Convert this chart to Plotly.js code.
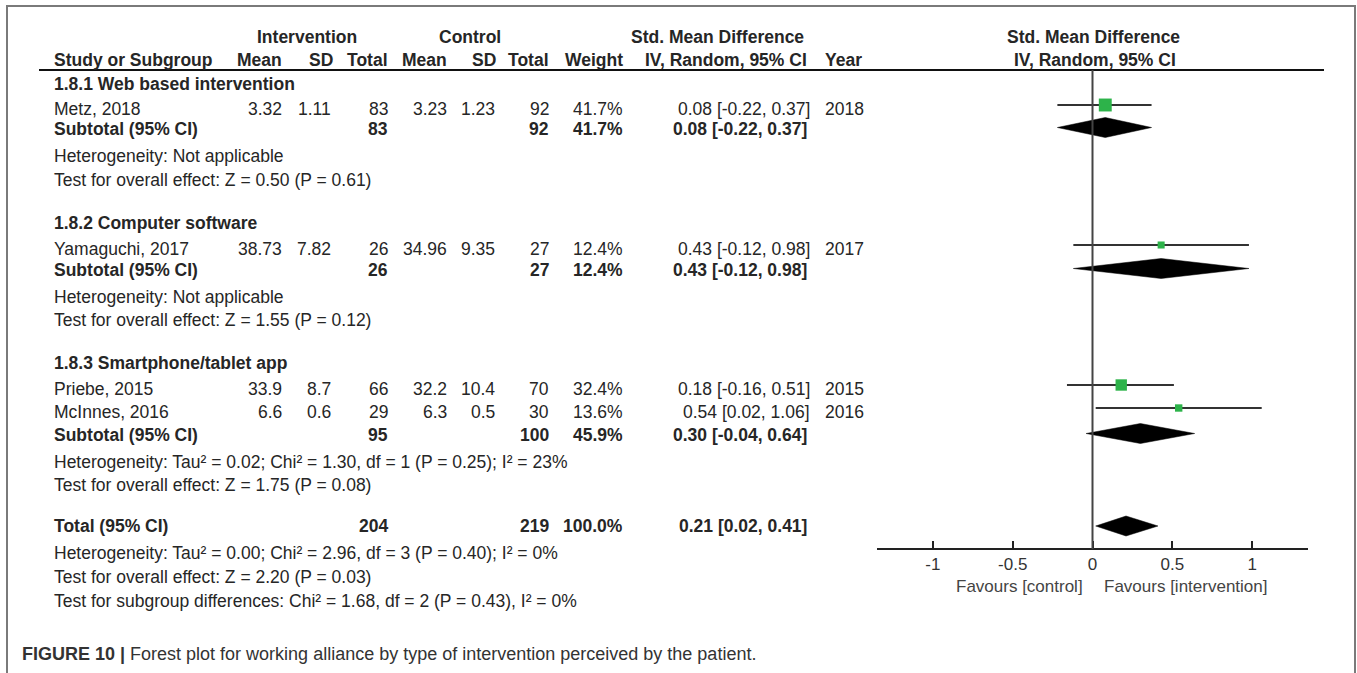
<!DOCTYPE html>
<html>
<head>
<meta charset="utf-8">
<script src="https://cdn.plot.ly/plotly-3.0.1.min.js"></script>
<style>html,body{margin:0;padding:0;background:#fff}</style>
</head>
<body>
<div id="chart" style="width:1357px;height:673px"></div>
<script>
// ---- Study-level data ----
const studies     = ["Metz, 2018", "Yamaguchi, 2017", "Priebe, 2015", "McInnes, 2016"];
const studyYears  = ["2018", "2017", "2015", "2016"];
const studyGroup  = [0, 1, 2, 2];
const intMean     = ["3.32", "38.73", "33.9", "6.6"];
const intSD       = ["1.11", "7.82", "8.7", "0.6"];
const intN        = [83, 26, 66, 29];
const ctlMean     = ["3.23", "34.96", "32.2", "6.3"];
const ctlSD       = ["1.23", "9.35", "10.4", "0.5"];
const ctlN        = [92, 27, 70, 30];
const studyWeight = [41.7, 12.4, 32.4, 13.6];
const studySMD    = [0.08, 0.43, 0.18, 0.54];
const studyLo     = [-0.22, -0.12, -0.16, 0.02];
const studyHi     = [0.37, 0.98, 0.51, 1.06];

// ---- Subgroup summaries ----
const groupNames  = ["1.8.1 Web based intervention", "1.8.2 Computer software", "1.8.3 Smartphone/tablet app"];
const groupIntN   = [83, 26, 95];
const groupCtlN   = [92, 27, 100];
const groupWeight = [41.7, 12.4, 45.9];
const groupSMD    = [0.08, 0.43, 0.30];
const groupLo     = [-0.22, -0.12, -0.04];
const groupHi     = [0.37, 0.98, 0.64];
const groupHet    = ["Heterogeneity: Not applicable",
                     "Heterogeneity: Not applicable",
                     "Heterogeneity: Tau² = 0.02; Chi² = 1.30, df = 1 (P = 0.25); I² = 23%"];
const groupTest   = ["Test for overall effect: Z = 0.50 (P = 0.61)",
                     "Test for overall effect: Z = 1.55 (P = 0.12)",
                     "Test for overall effect: Z = 1.75 (P = 0.08)"];

// ---- Overall summary ----
const totalIntN   = [204];
const totalCtlN   = [219];
const totalWeight = [100.0];
const totalSMD    = [0.21];
const totalLo     = [0.02];
const totalHi     = [0.41];
const totalNotes  = ["Heterogeneity: Tau² = 0.00; Chi² = 2.96, df = 3 (P = 0.40); I² = 0%",
                     "Test for overall effect: Z = 2.20 (P = 0.03)",
                     "Test for subgroup differences: Chi² = 1.68, df = 2 (P = 0.43), I² = 0%"];

// ---- Axis ticks ----
const tickVals   = [-1, -0.5, 0, 0.5, 1];
const tickLabels = ["-1", "-0.5", "0", "0.5", "1"];
const caption    = "Forest plot for working alliance by type of intervention perceived by the patient.";

// ---- Page geometry (pixels) ----
const W = 1357, H = 673;
const px = x => x / W;
const py = y => 1 - y / H;
const ruleY = 70, axisY = 549;
const studyRowY = [109, 249, 389, 412];
const groupRowY = [84, 223, 363];
const subRowY   = [129, 270, 435];
const hetRowY   = [156, 297, 462];
const testRowY  = [180, 320, 485];
const totalRowY = 526;
const totalNoteY = [553, 577, 601];
const markShift = -4, diamondShift = -1.5, diamondHalf = 10;

// column anchors
const col = {name: 54, iMean: 282, iSD: 331, iN: 388, cMean: 447, cSD: 495, cN: 549,
             wt: 623, ci: 810, ciBold: 807, year: 825};

const FONT = "Liberation Sans, Arial, Helvetica, sans-serif";
const TXT = "#262626";
const FS = 17.5;

const annotations = [];
function txt(text, x, y, anchor, bold, extra) {
  annotations.push(Object.assign({
    text: bold ? "<b>" + text + "</b>" : text,
    x: px(x), y: py(y), xref: "paper", yref: "paper",
    xanchor: anchor, yanchor: "middle", showarrow: false,
    borderpad: 0, borderwidth: 0,
    font: {family: FONT, size: FS, color: TXT}
  }, extra || {}));
}
const fmtCI = (m, l, h) => m.toFixed(2) + " [" + l.toFixed(2) + ", " + h.toFixed(2) + "]";
const fmtW = w => w.toFixed(1) + "%";

// header
txt("Intervention", 307, 37, "center", true);
txt("Control", 470, 37, "center", true);
txt("Std. Mean Difference", 717, 37, "center", true);
txt("Std. Mean Difference", 1093, 37, "center", true);
txt("Study or Subgroup", col.name, 60, "left", true);
txt("Mean", col.iMean, 60, "right", true);
txt("SD", 333, 60, "right", true);
txt("Total", col.iN, 60, "right", true);
txt("Mean", col.cMean, 60, "right", true);
txt("SD", 496, 60, "right", true);
txt("Total", col.cN, 60, "right", true);
txt("Weight", col.wt, 60, "right", true);
txt("IV, Random, 95% CI", 726, 60, "center", true);
txt("Year", col.year, 60, "left", true);
txt("IV, Random, 95% CI", 1095, 60, "center", true);

// subgroups and studies
groupNames.forEach((g, gi) => {
  txt(g, col.name, groupRowY[gi], "left", true);
  studies.forEach((s, si) => {
    if (studyGroup[si] !== gi) return;
    const y = studyRowY[si];
    txt(s, col.name, y, "left");
    txt(intMean[si], col.iMean, y, "right");
    txt(intSD[si], col.iSD, y, "right");
    txt(String(intN[si]), col.iN, y, "right");
    txt(ctlMean[si], col.cMean, y, "right");
    txt(ctlSD[si], col.cSD, y, "right");
    txt(String(ctlN[si]), col.cN, y, "right");
    txt(fmtW(studyWeight[si]), col.wt, y, "right");
    txt(fmtCI(studySMD[si], studyLo[si], studyHi[si]), col.ci, y, "right");
    txt(studyYears[si], col.year, y, "left");
  });
  const ys = subRowY[gi];
  txt("Subtotal (95% CI)", col.name, ys, "left", true);
  txt(String(groupIntN[gi]), col.iN, ys, "right", true);
  txt(String(groupCtlN[gi]), col.cN, ys, "right", true);
  txt(fmtW(groupWeight[gi]), col.wt, ys, "right", true);
  txt(fmtCI(groupSMD[gi], groupLo[gi], groupHi[gi]), col.ciBold, ys, "right", true);
  txt(groupHet[gi], col.name, hetRowY[gi], "left");
  txt(groupTest[gi], col.name, testRowY[gi], "left");
});

// overall
txt("Total (95% CI)", col.name, totalRowY, "left", true);
txt(String(totalIntN[0]), col.iN, totalRowY, "right", true);
txt(String(totalCtlN[0]), col.cN, totalRowY, "right", true);
txt(fmtW(totalWeight[0]), col.wt, totalRowY, "right", true);
txt(fmtCI(totalSMD[0], totalLo[0], totalHi[0]), col.ciBold, totalRowY, "right", true);
totalNotes.forEach((n, i) => txt(n, col.name, totalNoteY[i], "left"));

// axis direction labels
txt("Favours [control]", 1019, 586, "center", false, {font: {family: FONT, size: 17, color: "#444"}});
txt("Favours [intervention]", 1185, 586, "center", false, {font: {family: FONT, size: 17, color: "#444"}});

// caption
txt("<b>FIGURE 10 |</b> " + caption, 22, 654, "left", false, {font: {family: FONT, size: 18, color: "#333"}});

// ---- Traces ----
const traces = [];

// confidence-interval whiskers
const ciX = [], ciY = [];
studies.forEach((s, i) => {
  ciX.push(studyLo[i], studyHi[i], null);
  const y = studyRowY[i] + markShift;
  ciY.push(y, y, null);
});
traces.push({x: ciX, y: ciY, mode: "lines", line: {color: "#333", width: 2}, hoverinfo: "skip"});

// weighted study squares (area follows the study weight)
traces.push({
  x: studySMD, y: studyRowY.map(y => y + markShift), mode: "markers",
  marker: {symbol: "square", color: "#2db34a", opacity: 1,
           size: studyWeight.map(w => 2.0 * Math.sqrt(w)), line: {width: 0}},
  hoverinfo: "skip"
});

// pooled diamonds
function diamond(m, l, h, yc) {
  traces.push({
    x: [l, m, h, m, l], y: [yc, yc - diamondHalf, yc, yc + diamondHalf, yc],
    mode: "lines", fill: "toself", fillcolor: "#000", line: {color: "#000", width: 0.5},
    hoverinfo: "skip"
  });
}
groupSMD.forEach((m, i) => diamond(m, groupLo[i], groupHi[i], subRowY[i] + diamondShift));
diamond(totalSMD[0], totalLo[0], totalHi[0], totalRowY);

const layout = {
  width: W, height: H, autosize: false,
  margin: {l: 0, r: 0, t: 0, b: 0},
  paper_bgcolor: "#fff", plot_bgcolor: "rgba(0,0,0,0)",
  showlegend: false,
  font: {family: FONT, color: TXT},
  xaxis: {
    domain: [px(877), px(1308)], range: [-1.35, 1.35],
    anchor: "free", position: py(axisY),
    tickvals: tickVals, ticktext: tickLabels,
    ticks: "inside", ticklen: 7, tickwidth: 2, tickcolor: "#222",
    showline: true, linewidth: 2, linecolor: "#222",
    showgrid: false, zeroline: false,
    tickfont: {family: FONT, size: 17, color: "#333"}, fixedrange: true
  },
  yaxis: {domain: [0, 1], range: [H, 0], visible: false, fixedrange: true},
  shapes: [
    // outer frame
    {type: "rect", xref: "paper", yref: "paper", x0: px(7), x1: px(1355), y0: py(690), y1: py(6),
     line: {color: "#7a7a7a", width: 2}},
    // header rule
    {type: "line", xref: "paper", yref: "paper", x0: px(39), x1: px(1324), y0: py(ruleY), y1: py(ruleY),
     line: {color: "#111", width: 2}},
    // line of no effect
    {type: "line", xref: "x", yref: "y", x0: 0, x1: 0, y0: ruleY, y1: axisY,
     line: {color: "#444", width: 2}}
  ],
  annotations: annotations
};

Plotly.newPlot("chart", traces, layout, {displayModeBar: false, staticPlot: true});
</script>
</body>
</html>
